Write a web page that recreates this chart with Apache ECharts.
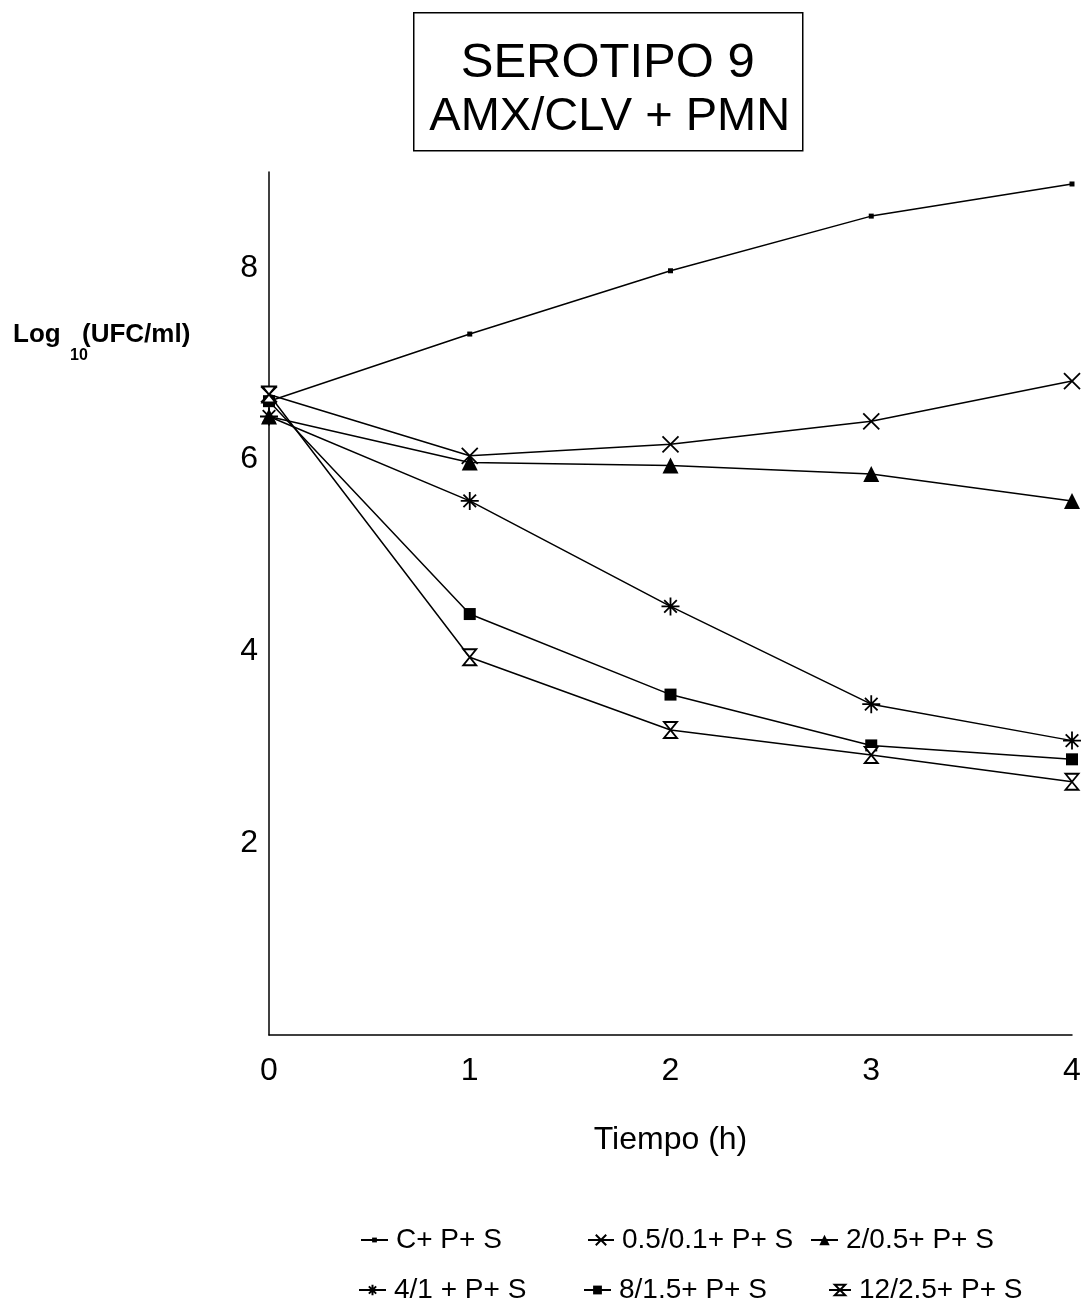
<!DOCTYPE html>
<html><head><meta charset="utf-8">
<script src="https://cdn.jsdelivr.net/npm/echarts@6/dist/echarts.min.js"></script>
<style>html,body{margin:0;padding:0;background:#fff}#c{width:1091px;height:1312px}</style>
</head><body><div id="c"></div>
<script>
const xTimes = [0, 1, 2, 3, 4];
const seriesNames = ['C+ P+ S', '0.5/0.1+ P+ S', '2/0.5+ P+ S', '4/1 + P+ S', '8/1.5+ P+ S', '12/2.5+ P+ S'];
const sC   = [6.61, 7.31, 7.97, 8.54, 8.875];
const s05  = [6.68, 6.04, 6.16, 6.40, 6.82];
const s2   = [6.45, 5.97, 5.94, 5.85, 5.57];
const s4   = [6.45, 5.57, 4.47, 3.45, 3.07];
const s8   = [6.61, 4.39, 3.55, 3.02, 2.875];
const s12  = [6.68, 3.94, 3.18, 2.92, 2.64];
const yTicks = [2, 4, 6, 8];
const titleLines = ['SEROTIPO 9', 'AMX/CLV + PMN'];

const FONT = "'Liberation Sans', Arial, sans-serif";

const symX = 'path://M0,0L10,10M10,0L0,10';
const symAst = 'path://M5,0L5,10M0,5L10,5M1.5,1.5L8.5,8.5M8.5,1.5L1.5,8.5';
const symHour = 'path://M0,0L10,0L5,5L10,10L0,10L5,5Z';

function pts(arr){ return arr.map((v,i)=>[xTimes[i], v]); }

const defs = [
  {name: seriesNames[0], data: sC,  symbol: 'rect', size: 5, fill: '#000'},
  {name: seriesNames[1], data: s05, symbol: symX, size: 16, fill: '#000', stroke: true},
  {name: seriesNames[2], data: s2,  symbol: 'triangle', size: 16, fill: '#000'},
  {name: seriesNames[3], data: s4,  symbol: symAst, size: 18, fill: '#000', stroke: true},
  {name: seriesNames[4], data: s8,  symbol: 'rect', size: 12, fill: '#000'},
  {name: seriesNames[5], data: s12, symbol: symHour, size: [13, 16], fill: '#fff', stroke: true}
];

const series = defs.map(d => ({
  name: d.name,
  type: 'line',
  data: pts(d.data),
  symbol: d.symbol,
  symbolSize: d.size,
  showAllSymbol: true,
  animation: false,
  lineStyle: {color: '#000', width: 1.5},
  itemStyle: {color: d.fill, borderColor: '#000', borderWidth: d.stroke ? 1.8 : 0},
  z: 3
}));

const legendPos = [
  {left: 360, top: 1226, w: 27, h: 6}, {left: 587, top: 1226, w: 26, h: 13}, {left: 810, top: 1226, w: 27, h: 13},
  {left: 358, top: 1276, w: 27, h: 13}, {left: 583, top: 1276, w: 27, h: 11}, {left: 828, top: 1276, w: 22, h: 13}
];
const legends = seriesNames.map((n, i) => ({
  data: [n],
  left: legendPos[i].left,
  top: legendPos[i].top,
  orient: 'horizontal',
  itemWidth: legendPos[i].w,
  itemHeight: legendPos[i].h,
  itemGap: 4,
  padding: 0,
  selectedMode: false,
  textStyle: {fontFamily: FONT, fontSize: 28, color: '#000', padding: [0,0,0,3]}
}));

const chart = echarts.init(document.getElementById('c'), null, {renderer: 'canvas'});
chart.setOption({
  backgroundColor: '#fff',
  animation: false,
  grid: {left: 269, right: 19, top: 172, bottom: 277, containLabel: false},
  xAxis: {
    type: 'value', min: 0, max: 4, interval: 1,
    axisLine: {show: true, lineStyle: {color: '#000', width: 1.5}},
    axisTick: {show: false},
    splitLine: {show: false},
    axisLabel: {color: '#000', fontFamily: FONT, fontSize: 32, margin: 20,
      formatter: v => String(v)},
    name: 'Tiempo (h)',
    nameLocation: 'middle',
    nameGap: 89,
    nameTextStyle: {color: '#000', fontFamily: FONT, fontSize: 32}
  },
  yAxis: {
    type: 'value', min: 0, max: 9, interval: 2,
    axisLine: {show: true, lineStyle: {color: '#000', width: 1.5}},
    axisTick: {show: false},
    splitLine: {show: false},
    axisLabel: {color: '#000', fontFamily: FONT, fontSize: 32, margin: 11,
      formatter: v => (yTicks.indexOf(v) >= 0 ? String(v) : '')}
  },
  legend: legends,
  series: series,
  graphic: [
    {type: 'group', left: 413, top: 12, z: 10, children: [
      {type: 'rect', shape: {x: 0, y: 0, width: 389, height: 138},
       style: {fill: '#fff', stroke: '#000', lineWidth: 1.5}},
      {type: 'text', style: {text: titleLines[0], x: 194, y: 26, textAlign: 'center',
        fill: '#000', font: '49px ' + FONT}},
      {type: 'text', style: {text: titleLines[1], x: 196, y: 81, textAlign: 'center',
        fill: '#000', font: '47px ' + FONT}}
    ]},
    {type: 'text', left: 13, top: 322, z: 11,
     style: {text: 'Log', fill: '#000', font: 'bold 26px ' + FONT}},
    {type: 'text', left: 70, top: 348, z: 11,
     style: {text: '10', fill: '#000', font: 'bold 16px ' + FONT}},
    {type: 'text', left: 82, top: 322, z: 11,
     style: {text: '(UFC/ml)', fill: '#000', font: 'bold 26px ' + FONT}}
  ]
});
</script>
</body></html>
